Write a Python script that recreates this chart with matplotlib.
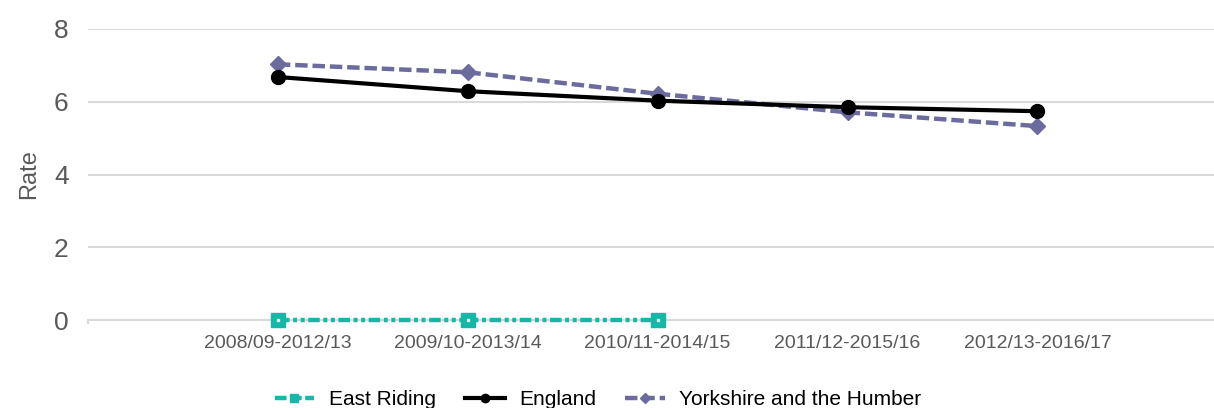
import numpy as np
import matplotlib.pyplot as plt

plt.rcParams['font.family'] = ['Liberation Sans', 'DejaVu Sans']

periods = ["2008/09-2012/13", "2009/10-2013/14", "2010/11-2014/15",
           "2011/12-2015/16", "2012/13-2016/17"]
east_riding = [0, 0, 0]
england = [6.68, 6.29, 6.03, 5.85, 5.74]
yorkshire = [7.03, 6.81, 6.22, 5.71, 5.33]

teal = "#16B7A7"
purple = "#6B6B9E"
grey = "#595959"

fig = plt.figure(figsize=(12.14, 4.08), dpi=100)
ax = fig.add_axes([88 / 1214, 1 - 320 / 408, 1 - 88 / 1214, 291 / 408])

x = np.arange(len(periods))

ax.plot(x[:len(east_riding)], east_riding, color=teal, lw=3.2,
        dashes=(2.6, 0.8, 0.9, 0.8, 0.9, 0.8), marker="s", markersize=10,
        markerfacecolor=teal, markeredgecolor=teal, label="East Riding", zorder=3,
        clip_on=False)
ax.plot(x[:len(east_riding)], east_riding, ls="none", marker="s", markersize=2,
        color="#d9f2ef", zorder=4, clip_on=False)
ax.plot(x, england, color="black", lw=3, marker="o", markersize=10,
        label="England", zorder=3)
ax.plot(x, yorkshire, color=purple, lw=3.2, dashes=(2.8, 1.1), marker="D",
        markersize=8, label="Yorkshire and the Humber", zorder=2)

ax.set_xlim(-1, 4.93)
ax.set_ylim(0, 8)
ax.set_yticks([0, 2, 4, 6, 8])
ax.set_xticks(np.arange(-1, 5), minor=True)
ax.set_xticks(x)
ax.set_xticklabels(periods)
ax.grid(axis="y", color="#d9d9d9", lw=1.5)
ax.set_axisbelow(True)
for s in ["top", "right", "left"]:
    ax.spines[s].set_visible(False)
ax.spines["bottom"].set_color("#d9d9d9")
ax.spines["bottom"].set_linewidth(1.5)
ax.tick_params(axis="y", length=0, labelsize=19, labelcolor=grey, pad=14)
ax.tick_params(axis="x", which="major", length=0, labelsize=14, labelcolor=grey, pad=11)
ax.tick_params(axis="x", which="minor", length=3, color="#d9d9d9", width=1.5)
ax.set_ylabel("Rate", fontsize=17, color=grey, labelpad=10)

leg = ax.legend(loc="upper center", bbox_to_anchor=(0.453, -0.24), ncol=3,
                frameon=False, fontsize=15, handlelength=1.9, columnspacing=1.4,
                handletextpad=0.7, borderaxespad=0, borderpad=0, markerscale=0.6)

fig.savefig("out.png", dpi=100)
